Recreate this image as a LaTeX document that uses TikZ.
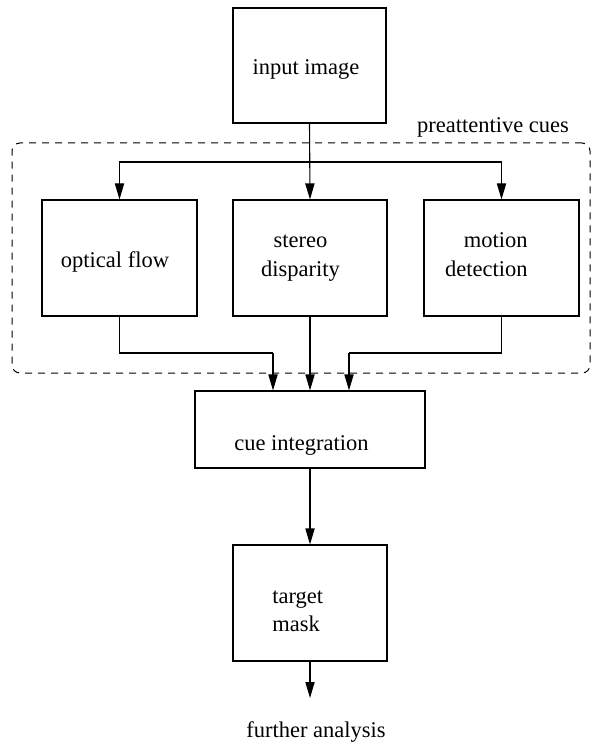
\documentclass[tikz,border=0pt]{standalone}
\usepackage{fontspec}
\setmainfont{Liberation Serif}
\usetikzlibrary{arrows.meta,calc}
\begin{document}
\begin{tikzpicture}[x=0.5pt,y=-0.5pt,
  box/.style 2 args={draw, rectangle, line width=0.55pt, inner sep=0pt,
    minimum width=#1*0.5pt, minimum height=#2*0.5pt},
  group/.style 2 args={draw, rectangle, line width=0.5pt, dash pattern=on 3.5pt off 3pt,
    rounded corners=4pt, inner sep=0pt, minimum width=#1*0.5pt, minimum height=#2*0.5pt},
  lbl/.style={font=\rmfamily\fontsize{11.25}{14}\selectfont, inner sep=0pt, anchor=base},
  arr/.style={line width=0.55pt, -{Triangle[length=8pt,width=4.6pt]}},
  con/.style={line width=0.55pt}]
\useasboundingbox (0,0) rectangle (600,743);

% grouping frame
\node[group={578}{230}] (pc) at (301,258) {};
\node[lbl] (pcl) at (493,133) {preattentive cues};

% boxes
\node[box={153}{115}] (in) at (309.5,65.5) {};
\node[box={155}{116}] (of) at (119.5,258) {};
\node[box={154}{116}] (sd) at (310,258) {};
\node[box={155}{116}] (md) at (501.5,258) {};
\node[box={230}{77}] (ci) at (310,429.5) {};
\node[box={154}{116}] (tm) at (310,603) {};

% labels (base anchor of a two-line label is its last baseline)
\node[lbl] (inl) at (306,75) {input image};
\node[lbl] (ofl) at (115,267) {optical flow};
\node[lbl, align=center] (sdl) at (300.5,276) {stereo\\disparity};
\node[lbl, anchor=base east, align=right] (mdl) at (528,276) {motion\\detection};
\node[lbl] (cil) at (301.5,450) {cue integration};
\node[lbl, anchor=base west, align=left] (tml) at (272,631) {target\\mask};
\node[lbl] (fa) at (316,737) {further analysis};

% connectors
\coordinate (br) at (310,162);
\coordinate (j1) at (273,353);
\coordinate (j2) at (349,353);
\coordinate (out) at (310,698);

\draw[arr] (in.south) -- (sd.north);
\draw[arr] (br) -| (of.north);
\draw[arr] (br) -| (md.north);
\draw[con] (of.south) |- (j1);
\draw[arr] (j1) -- (j1 |- ci.north);
\draw[arr] (sd.south) -- (ci.north);
\draw[con] (md.south) |- (j2);
\draw[arr] (j2) -- (j2 |- ci.north);
\draw[arr] (ci.south) -- (tm.north);
\draw[arr] (tm.south) -- (out);
\end{tikzpicture}
\end{document}
